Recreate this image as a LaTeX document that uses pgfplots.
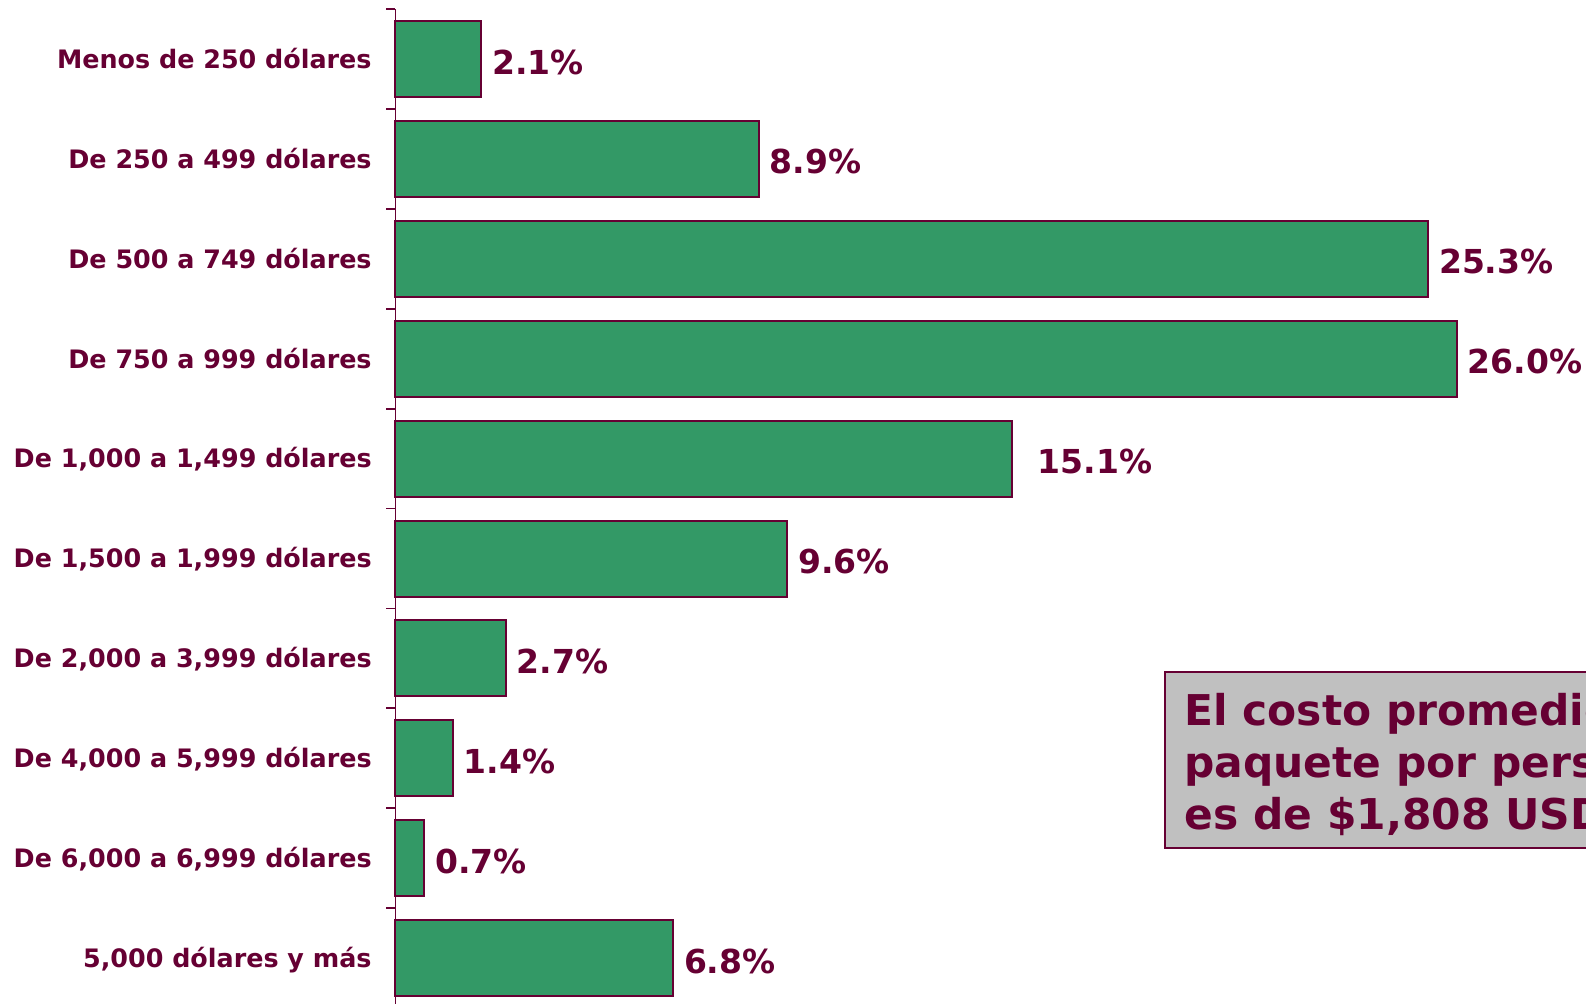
\documentclass[border=0pt]{standalone}
\usepackage{fontspec}
\setmainfont{DejaVu Sans}
\usepackage{pgfplots}
\pgfplotsset{compat=1.18}
\definecolor{barfill}{HTML}{339966}
\definecolor{maroon}{HTML}{660033}
\definecolor{boxgray}{HTML}{C0C0C0}
\begin{document}
\begin{tikzpicture}
\useasboundingbox (0,0) rectangle (793pt,502pt);
\clip (0,0) rectangle (793pt,502pt);
\begin{axis}[
  at={(197.75pt,-2.05pt)}, anchor=south west,
  scale only axis, width=595.25pt, height=499.5pt,
  xbar, bar width=38pt,
  xmin=0, xmax=29.17,
  ymin=0.5, ymax=10.5, y dir=reverse,
  axis x line=none, axis y line=left,
  axis line style={-, draw=maroon, line width=0.9pt},
  xtick=\empty,
  ytick={1,...,10},
  yticklabels={Menos de 250 dólares, De 250 a 499 dólares, De 500 a 749 dólares, De 750 a 999 dólares, {De 1,000 a 1,499 dólares}, {De 1,500 a 1,999 dólares}, {De 2,000 a 3,999 dólares}, {De 4,000 a 5,999 dólares}, {De 6,000 a 6,999 dólares}, {5,000 dólares y más}},
  major tick length=0pt,
  minor ytick={0.5,1.5,...,10.5},
  minor tick length=4.5pt,
  tick align=outside,
  tick style={draw=maroon, line width=0.9pt},
  minor tick style={draw=maroon, line width=0.9pt},
  yticklabel style={font=\fontsize{12.7}{15}\selectfont\bfseries, text=maroon, anchor=east, inner sep=0pt, xshift=-11.75pt, text height=9.3pt, text depth=0pt},
  nodes near coords, point meta=explicit symbolic,
  every node near coord/.append style={font=\fontsize{16.5}{19}\selectfont\bfseries, text=maroon, anchor=west, inner sep=0pt, xshift=5pt, yshift=-1.5pt},
  clip=false,
]
\addplot[fill=barfill, draw=maroon, line width=1pt] coordinates {
  (2.1,1) [2.1\%]
  (8.9,2) [8.9\%]
  (25.3,3) [25.3\%]
  (26.0,4) [26.0\%]
  (15.1,5) [\kern7.6pt 15.1\%]
  (9.6,6) [9.6\%]
  (2.7,7) [2.7\%]
  (1.4,8) [1.4\%]
  (0.7,9) [0.7\%]
  (6.8,10) [6.8\%]
};
\end{axis}
\draw[draw=maroon, fill=boxgray, line width=1pt] (582.5pt,166pt) rectangle (900pt,78pt);
\begin{scope}[every node/.style={anchor=base west, inner sep=0pt, text=maroon, font=\fontsize{21.2}{25.85}\selectfont\bfseries}]
\node at (592pt,139pt) {El costo promedio del};
\node at (592pt,113.15pt) {paquete por persona};
\node at (592pt,87.35pt) {es de \$1,808 USD};
\end{scope}
\end{tikzpicture}
\end{document}
